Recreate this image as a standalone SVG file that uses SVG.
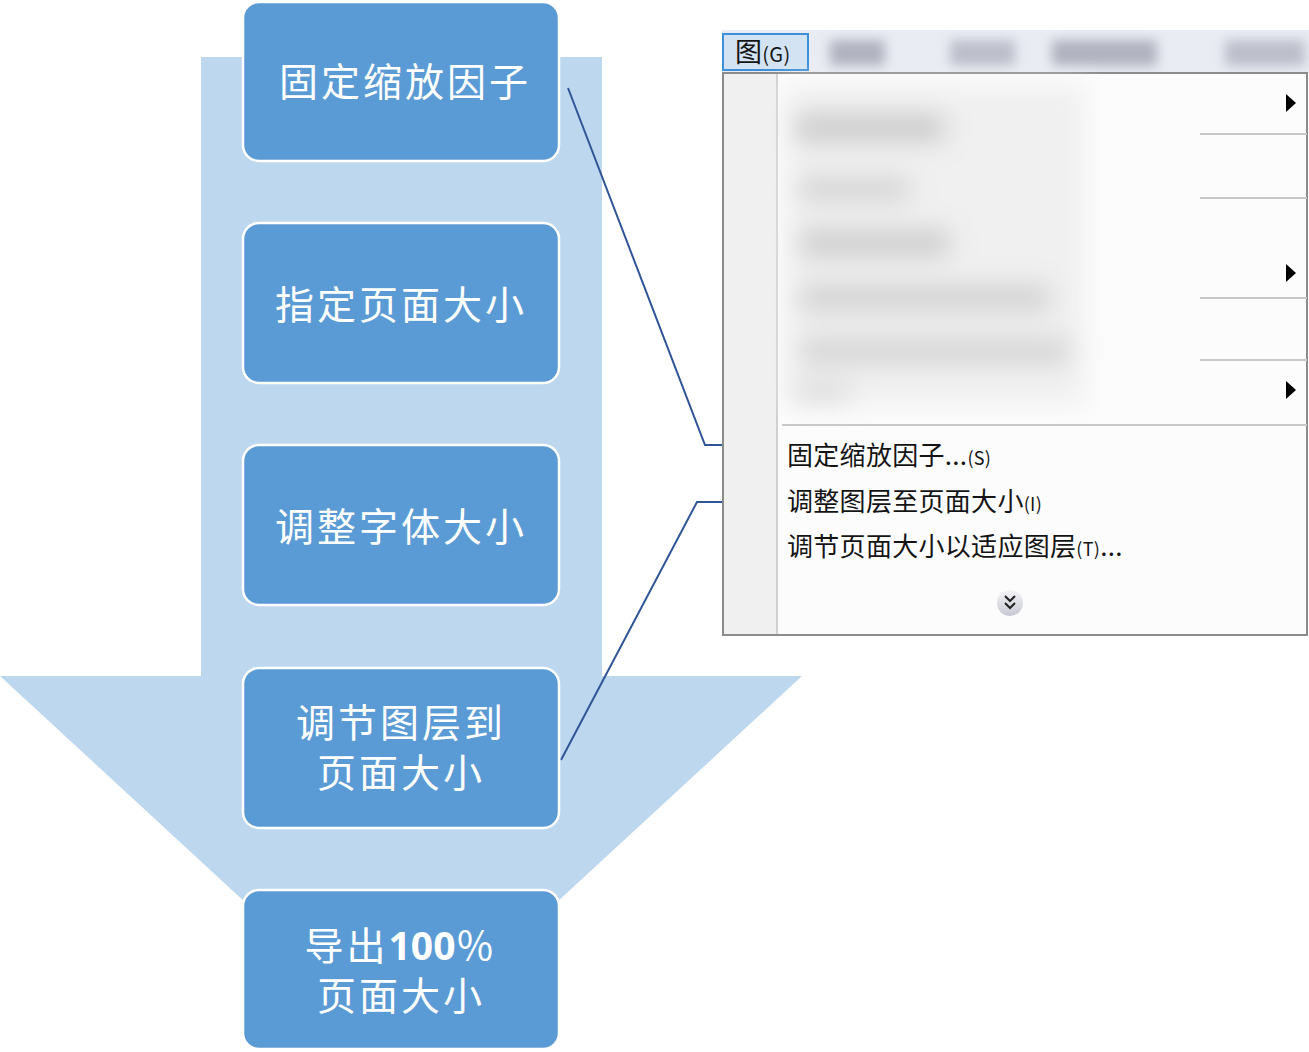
<svg xmlns="http://www.w3.org/2000/svg" width="1309" height="1052" viewBox="0 0 1309 1052">
<style>
.box{fill:#5B9BD5;stroke:#FFFFFF;stroke-width:2.5}
.bt{font-family:"Noto Sans CJK SC","Liberation Sans",sans-serif;font-size:39px;fill:#FFFFFF;text-anchor:middle;letter-spacing:3px}
.conn{fill:none;stroke:#2F5597;stroke-width:2}
.mt{font-family:"Noto Sans CJK SC","Liberation Sans",sans-serif;font-size:26px;fill:#141414;letter-spacing:0.3px}
.ms{font-size:18px}
.sep{stroke:#C8C8C8;stroke-width:2}
</style>
<defs>
<filter id="bl" x="-30%" y="-150%" width="160%" height="400%"><feGaussianBlur stdDeviation="13"/></filter>
<filter id="bl2" x="-30%" y="-100%" width="160%" height="300%"><feGaussianBlur stdDeviation="6"/></filter>
<linearGradient id="chev" x1="0" y1="0" x2="0" y2="1"><stop offset="0" stop-color="#F4F4F8"/><stop offset="1" stop-color="#C8C8D4"/></linearGradient>
</defs>
<g id="bigArrow">
<polygon points="201,57 602,57 602,676 802,676 401,1046 0,676 201,676" fill="#BDD7EE"/>
</g>
<g id="connectors">
<polyline class="conn" points="568,88 705,445 782,445"/>
<polyline class="conn" points="561,760 697,502 782,502"/>
</g>
<g id="node1"><rect class="box" x="243" y="2" width="316" height="159" rx="16"/><text class="bt" x="405" y="96">固定缩放因子</text></g>
<g id="node2"><rect class="box" x="243" y="223" width="316" height="160" rx="16"/><text class="bt" x="401" y="319">指定页面大小</text></g>
<g id="node3"><rect class="box" x="243" y="445" width="316" height="160" rx="16"/><text class="bt" x="401" y="541">调整字体大小</text></g>
<g id="node4"><rect class="box" x="243" y="668" width="316" height="160" rx="16"/><text class="bt" x="401" y="737">调节图层到</text><text class="bt" x="401" y="787">页面大小</text></g>
<g id="node5"><rect class="box" x="243" y="890" width="316" height="159" rx="16"/><text class="bt" x="401" y="960">导出<tspan font-weight="bold" font-family="'Open Sans','Liberation Sans',sans-serif" letter-spacing="0">100</tspan>％</text><text class="bt" x="401" y="1010">页面大小</text></g>
<g id="menu">
<rect x="722" y="30" width="587" height="43" fill="#E9ECF3"/>
<g filter="url(#bl2)">
<rect x="830" y="40" width="55" height="26" fill="#B0B3BF"/>
<rect x="950" y="40" width="65" height="26" fill="#BCBFCA"/>
<rect x="1052" y="40" width="105" height="26" fill="#B0B3BF"/>
<rect x="1225" y="40" width="80" height="26" fill="#BCBFCA"/>
</g>
<rect x="723" y="34" width="85" height="36" fill="#D3E3F3" stroke="#3C8FD8" stroke-width="2"/>
<text class="mt" x="735" y="62" style="font-size:27px">图<tspan style="font-size:20px">(G)</tspan></text>
<rect x="723" y="73" width="584" height="562" fill="#FCFCFC" stroke="#8C8C8C" stroke-width="2"/>
<rect x="724" y="74" width="52" height="560" fill="#F0F0F0"/>
<line x1="777" y1="74" x2="777" y2="634" stroke="#D0D0D0" stroke-width="2"/>
<g filter="url(#bl)">
<rect x="785" y="85" width="300" height="320" fill="#F0F0F0"/>
<rect x="795" y="115" width="150" height="26" fill="#C8C8C8"/>
<rect x="800" y="178" width="110" height="22" fill="#D0D0D0"/>
<rect x="800" y="230" width="150" height="26" fill="#CACACA"/>
<rect x="800" y="285" width="250" height="26" fill="#D0D0D0"/>
<rect x="800" y="338" width="270" height="26" fill="#D4D4D4"/>
<rect x="795" y="383" width="55" height="20" fill="#DADADA"/>
</g>
<line class="sep" x1="1200" y1="134" x2="1307" y2="134"/>
<line class="sep" x1="1200" y1="198" x2="1307" y2="198"/>
<line class="sep" x1="1200" y1="298" x2="1307" y2="298"/>
<line class="sep" x1="1200" y1="360" x2="1307" y2="360"/>
<line class="sep" x1="782" y1="425" x2="1307" y2="425"/>
<polygon points="1286,94 1296,103 1286,112" fill="#000"/>
<polygon points="1286,264 1296,273 1286,282" fill="#000"/>
<polygon points="1286,381 1296,390 1286,399" fill="#000"/>
<text class="mt" x="787" y="465">固定缩放因子...<tspan class="ms">(S)</tspan></text>
<text class="mt" x="787" y="511">调整图层至页面大小<tspan class="ms">(I)</tspan></text>
<text class="mt" x="787" y="556">调节页面大小以适应图层<tspan class="ms">(T)</tspan>...</text>
<circle cx="1010" cy="603" r="13" fill="url(#chev)"/>
<path d="M1005,596 L1010,601 L1015,596 M1005,603 L1010,608 L1015,603" fill="none" stroke="#222" stroke-width="2"/>
</g>
</svg>
